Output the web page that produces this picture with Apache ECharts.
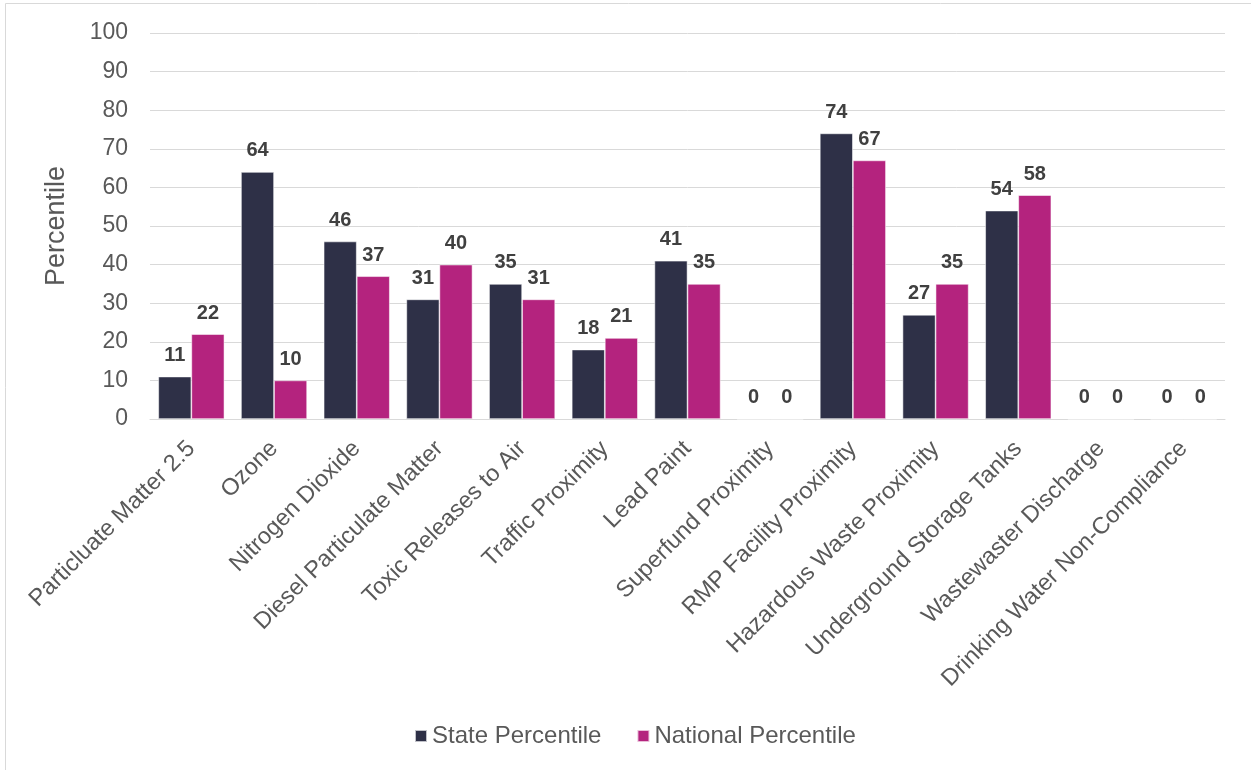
<!DOCTYPE html>
<html>
<head>
<meta charset="utf-8">
<title>Percentile chart</title>
<script src="https://cdn.jsdelivr.net/npm/echarts@6/dist/echarts.min.js"></script>
<style>
  html, body { margin: 0; padding: 0; background: #fff; }
  #main { width: 1251px; height: 770px; }
</style>
</head>
<body>
<div id="main"></div>
<script>
// categories along the x axis
var categories = [
  'Particluate Matter 2.5', 'Ozone', 'Nitrogen Dioxide', 'Diesel Particulate Matter',
  'Toxic Releases to Air', 'Traffic Proximity', 'Lead Paint', 'Superfund Proximity',
  'RMP Facility Proximity', 'Hazardous Waste Proximity', 'Underground Storage Tanks',
  'Wastewaster Discharge', 'Drinking Water Non-Compliance'
]
var statePercentile = [11, 64, 46, 31, 35, 18, 41, 0, 74, 27, 54, 0, 0]
var nationalPercentile = [22, 10, 37, 40, 31, 21, 35, 0, 67, 35, 58, 0, 0]
var seriesNames = ['State Percentile', 'National Percentile']

var FONT = 'Arial, "Liberation Sans", sans-serif'
var GREY = '#595959'

var chart = echarts.init(document.getElementById('main'))

function barSeries(name, data, color) {
  return {
    name: name,
    type: 'bar',
    data: data,
    barGap: '0%',
    barCategoryGap: '20%',
    itemStyle: {
      color: color,
      borderColor: 'rgba(255,255,255,0.7)',
      borderWidth: 0.75
    },
    label: {
      show: true,
      position: 'top',
      distance: 11,
      color: '#404040',
      fontWeight: 'bold',
      fontSize: 20,
      fontFamily: FONT
    }
  }
}

chart.setOption({
  animation: false,
  textStyle: { fontFamily: FONT },
  graphic: [{
    type: 'rect',
    shape: { x: 5.5, y: 3.5, width: 1300, height: 800 },
    style: { fill: 'none', stroke: '#D9D9D9', lineWidth: 1 },
    silent: true
  }],
  grid: {
    left: 150,
    right: 26,
    top: 33,
    bottom: 351
  },
  legend: {
    data: seriesNames,
    top: 719,
    left: 409,
    icon: 'rect',
    itemWidth: 12,
    itemHeight: 12,
    itemGap: 35,
    textStyle: { color: GREY, fontSize: 24, fontFamily: FONT }
  },
  xAxis: {
    type: 'category',
    data: categories,
    axisTick: { show: false },
    axisLine: { lineStyle: { color: '#D9D9D9', width: 1 } },
    axisLabel: {
      interval: 0,
      rotate: 45,
      margin: 26,
      color: GREY,
      fontSize: 23.5,
      fontFamily: FONT
    }
  },
  yAxis: {
    type: 'value',
    min: 0,
    max: 100,
    interval: 10,
    name: 'Percentile',
    nameLocation: 'middle',
    nameGap: 80,
    nameTextStyle: { color: GREY, fontSize: 27, fontFamily: FONT },
    axisLine: { show: false },
    axisTick: { show: false },
    axisLabel: { color: GREY, fontSize: 23, margin: 22, fontFamily: FONT },
    splitLine: { lineStyle: { color: '#D9D9D9', width: 1 } }
  },
  series: [
    barSeries(seriesNames[0], statePercentile, '#2E3047'),
    barSeries(seriesNames[1], nationalPercentile, '#B4237E')
  ]
})
</script>
</body>
</html>
